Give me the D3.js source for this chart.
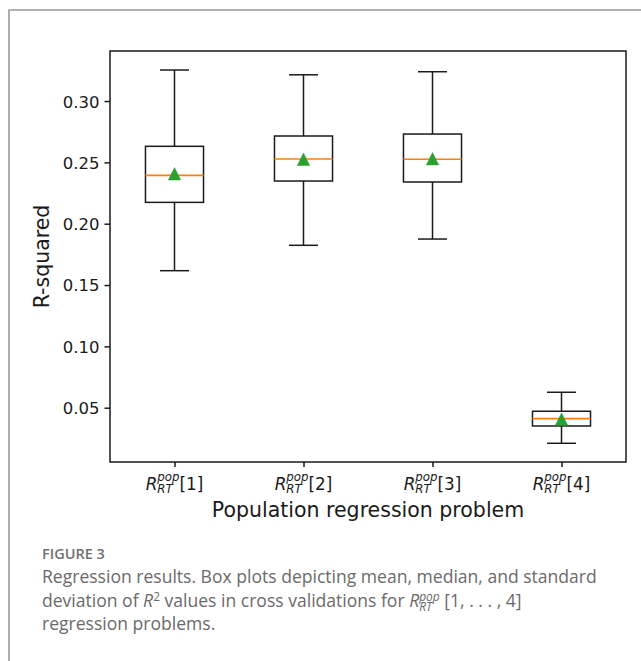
<!DOCTYPE html>
<html>
<head>
<meta charset="utf-8">
<script src="https://cdn.jsdelivr.net/npm/d3@7"></script>
<style>
  html, body { margin: 0; padding: 0; background: #fff; }
  svg { display: block; }
  svg text { white-space: pre; }
</style>
</head>
<body>
<svg id="chart" width="641" height="661"></svg>
<script>
// ---------------- DATA ----------------
const categories = ["1", "2", "3", "4"];
const positions = [1, 2, 3, 4];
const whiskerLow  = [0.1617, 0.1824, 0.1875, 0.0210];
const q1Values    = [0.2174, 0.2348, 0.2340, 0.0351];
const medians     = [0.2394, 0.2527, 0.2525, 0.0411];
const q3Values    = [0.2631, 0.2715, 0.2731, 0.0471];
const whiskerHigh = [0.3253, 0.3214, 0.3239, 0.0626];
const means       = [0.2407, 0.2525, 0.2530, 0.0407];
const yTickValues = [0.05, 0.10, 0.15, 0.20, 0.25, 0.30];
const yLabel = "R-squared";
const xLabel = "Population regression problem";
const figureLabel = "FIGURE 3";
const captionLine1 = "Regression results. Box plots depicting mean, median, and standard";
const captionLine3 = "regression problems.";

// ---------------- LAYOUT ----------------
const svg = d3.select("#chart");
svg.append("rect").attr("width", 641).attr("height", 661).attr("fill", "#fff");

// outer figure frame (open at right/bottom, cut by the page)
svg.append("path")
  .attr("d", "M9,700 L9,10 L700,10")
  .attr("fill", "none").attr("stroke", "#9a9a9a").attr("stroke-width", 1.6);

const plot = { left: 110, right: 626, top: 51, bottom: 462 };
const x = d3.scaleLinear().domain([0.5, 4.5]).range([plot.left, plot.right]);
const y = d3.scaleLinear().domain([0.00574, 0.3408]).range([plot.bottom, plot.top]);

const boxW = 0.45, capW = 0.225;
const lineColor = "#1a1a1a";
const lw = 1.5;

const tickFont = "'DejaVu Sans', sans-serif";

// y axis
const yAxis = d3.axisLeft(y).tickValues(yTickValues).tickFormat(d3.format(".2f"))
  .tickSize(5.5).tickPadding(5);
const gy = svg.append("g").attr("transform", `translate(${plot.left},0)`).call(yAxis);
gy.select(".domain").remove();
gy.selectAll(".tick line").attr("stroke", lineColor).attr("stroke-width", lw);
gy.selectAll(".tick text").attr("font-family", tickFont).attr("font-size", 16.5)
  .attr("fill", "#1a1a1a").attr("dy", "0.36em");

// x axis ticks
const xAxis = d3.axisBottom(x).tickValues(positions).tickFormat("").tickSize(5);
const gx = svg.append("g").attr("transform", `translate(0,${plot.bottom})`).call(xAxis);
gx.select(".domain").remove();
gx.selectAll(".tick line").attr("stroke", lineColor).attr("stroke-width", lw);

// boxes
const data = positions.map((p, i) => ({
  p, lo: whiskerLow[i], q1: q1Values[i], med: medians[i], q3: q3Values[i], hi: whiskerHigh[i], mean: means[i]
}));
const gb = svg.append("g");
data.forEach(d => {
  const g = gb.append("g");
  g.append("line").attr("x1", x(d.p)).attr("x2", x(d.p)).attr("y1", y(d.q3)).attr("y2", y(d.hi))
    .attr("stroke", lineColor).attr("stroke-width", lw);
  g.append("line").attr("x1", x(d.p)).attr("x2", x(d.p)).attr("y1", y(d.q1)).attr("y2", y(d.lo))
    .attr("stroke", lineColor).attr("stroke-width", lw);
  g.append("line").attr("x1", x(d.p - capW / 2)).attr("x2", x(d.p + capW / 2)).attr("y1", y(d.hi)).attr("y2", y(d.hi))
    .attr("stroke", lineColor).attr("stroke-width", lw);
  g.append("line").attr("x1", x(d.p - capW / 2)).attr("x2", x(d.p + capW / 2)).attr("y1", y(d.lo)).attr("y2", y(d.lo))
    .attr("stroke", lineColor).attr("stroke-width", lw);
  g.append("rect").attr("x", x(d.p - boxW / 2)).attr("y", y(d.q3))
    .attr("width", x(d.p + boxW / 2) - x(d.p - boxW / 2)).attr("height", y(d.q1) - y(d.q3))
    .attr("fill", "none").attr("stroke", lineColor).attr("stroke-width", lw);
  g.append("line").attr("x1", x(d.p - boxW / 2)).attr("x2", x(d.p + boxW / 2)).attr("y1", y(d.med)).attr("y2", y(d.med))
    .attr("stroke", "#ff7f0e").attr("stroke-width", 1.6);
  const cx = x(d.p), cy = y(d.mean), s = 6.2;
  g.append("path").attr("d", `M${cx},${cy - s}L${cx + s},${cy + s}L${cx - s},${cy + s}Z`)
    .attr("fill", "#2ca02c").attr("stroke", "#2ca02c").attr("stroke-width", 0.5);
});

// frame (spines)
svg.append("rect").attr("x", plot.left).attr("y", plot.top)
  .attr("width", plot.right - plot.left).attr("height", plot.bottom - plot.top)
  .attr("fill", "none").attr("stroke", lineColor).attr("stroke-width", lw);

// ---------- helper: lay out rich-text runs as ONE text element ----------
function measure(str, family, size, italic, weight) {
  const t = svg.append("text").attr("font-family", family).attr("font-size", size)
    .attr("font-style", italic ? "italic" : "normal").attr("font-weight", weight || 400)
    .style("white-space", "pre").text(str);
  const w = t.node().getComputedTextLength();
  t.remove();
  return w;
}
function layoutRuns(parent, runs, x0, y0, base) {
  let cur = x0, stackStart = null, stackMax = 0;
  const placed = runs.map(r => {
    const size = r.size || base.size;
    const w = measure(r.text, base.family, size, r.italic, base.weight);
    const startX = (r.stack === "second") ? stackStart : cur;
    if (r.stack === "first") { stackStart = cur; stackMax = w; }
    else if (r.stack === "second") { stackMax = Math.max(stackMax, w); cur = stackStart + stackMax; }
    else { cur += w; }
    return { ...r, size, x: startX, y: y0 + (r.shift || 0) };
  });
  const t = parent.append("text")
    .attr("font-family", base.family).attr("font-size", base.size)
    .attr("font-weight", base.weight || 400).attr("fill", base.fill)
    .style("white-space", "pre");
  placed.forEach(r => {
    t.append("tspan").attr("x", r.x).attr("y", r.y).attr("font-size", r.size)
      .attr("font-style", r.italic ? "italic" : "normal").text(r.text);
  });
  return { t, width: cur - x0 };
}

// x tick labels:  R_{RT}^{pop}[n]
const mainSize = 16.8, smallSize = 11.8;
positions.forEach((p, i) => {
  const runs = [
    { text: "R", italic: true },
    { text: "pop", italic: true, size: smallSize, shift: -9.5, stack: "first" },
    { text: "RT", italic: true, size: smallSize, shift: 3.2, stack: "second" },
    { text: "[" + categories[i] + "]" }
  ];
  const base = { family: tickFont, size: mainSize, fill: "#1a1a1a" };
  const probeG = svg.append("g");
  const res = layoutRuns(probeG, runs, 0, 490, base);
  probeG.remove();
  layoutRuns(svg, runs, x(p) - res.width / 2, 490, base);
});

// axis labels
svg.append("text").attr("x", (plot.left + plot.right) / 2).attr("y", 517)
  .attr("text-anchor", "middle").attr("font-family", tickFont).attr("font-size", 20.5)
  .attr("fill", "#1a1a1a").text(xLabel);
svg.append("text").attr("transform", `translate(49,${(plot.top + plot.bottom) / 2}) rotate(-90)`)
  .attr("text-anchor", "middle").attr("font-family", tickFont).attr("font-size", 20.5)
  .attr("fill", "#1a1a1a").text(yLabel);

// ---------------- CAPTION ----------------
const capFamily = "'Open Sans', 'Noto Sans', sans-serif";
const capFill = "#6a6a6a";
svg.append("text").attr("x", 42).attr("y", 559)
  .attr("font-family", capFamily).attr("font-size", 14.5).attr("font-weight", 600)
  .attr("fill", "#707070").text(figureLabel);

// fit caption font so line 1 spans 42 -> 597
const probeW = measure(captionLine1, capFamily, 20, false, 400);
const capSize = 20 * 555 / probeW;
const capBase = { family: capFamily, size: capSize, fill: capFill, weight: 400 };
const ss = capSize * 0.68;

layoutRuns(svg, [{ text: captionLine1 }], 42, 583, capBase);
layoutRuns(svg, [
  { text: "deviation of " },
  { text: "R", italic: true },
  { text: "2", size: ss, shift: -capSize * 0.33 },
  { text: " values in cross validations for " },
  { text: "R", italic: true },
  { text: "pop", italic: true, size: ss, shift: -capSize * 0.33, stack: "first" },
  { text: "RT", italic: true, size: ss, shift: capSize * 0.2, stack: "second" },
  { text: " [1, . . . , 4]" }
], 42, 607, capBase);
layoutRuns(svg, [{ text: captionLine3 }], 42, 630, capBase);
</script>
</body>
</html>
